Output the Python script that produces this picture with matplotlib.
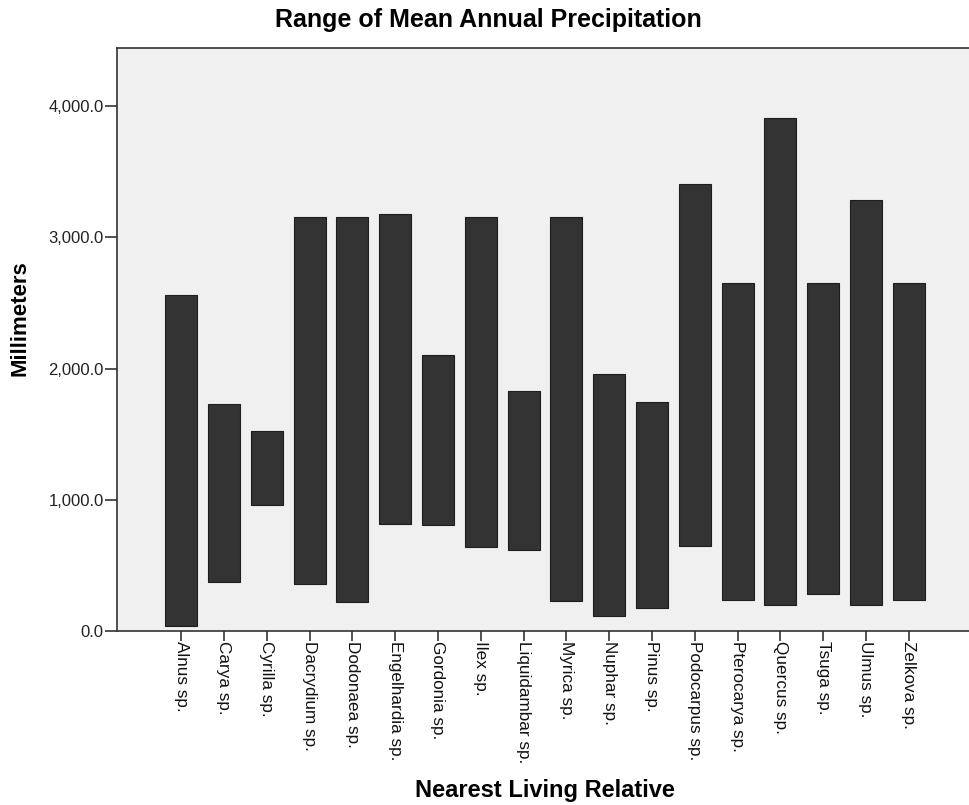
import matplotlib
matplotlib.use("Agg")
from matplotlib import pyplot as plt
from matplotlib.ticker import FuncFormatter
import matplotlib.transforms as mtransforms

taxa = ["Alnus sp.", "Carya sp.", "Cyrilla sp.", "Dacrydium sp.", "Dodonaea sp.",
        "Engelhardia sp.", "Gordonia sp.", "Ilex sp.", "Liquidambar sp.", "Myrica sp.",
        "Nuphar sp.", "Pinus sp.", "Podocarpus sp.", "Pterocarya sp.", "Quercus sp.",
        "Tsuga sp.", "Ulmus sp.", "Zelkova sp."]
precip_min = [40, 370, 958, 358, 221, 818, 805, 638, 617, 226,
              112, 175, 648, 239, 196, 282, 196, 239]
precip_max = [2557, 1727, 1523, 3153, 3153, 3176, 2100, 3154, 1829, 3154,
              1960, 1742, 3406, 2651, 3907, 2651, 3286, 2651]
y_ticks = [0, 1000, 2000, 3000, 4000]

plt.rcParams["font.family"] = ["Liberation Sans", "DejaVu Sans"]

fig = plt.figure(figsize=(9.69, 8.05), dpi=100)
ax = fig.add_axes([117 / 969, 1 - 631 / 805, (973 - 117) / 969, (631 - 48) / 805])
ax.set_facecolor("#f0f0f0")

x = list(range(len(taxa)))
heights = [hi - lo for lo, hi in zip(precip_min, precip_max)]
ax.bar(x, heights, bottom=precip_min, width=0.75, color="#333333",
       edgecolor="#1e1e1e", linewidth=0.8, zorder=3)

ax.set_xlim(-1.5, 18.5)
ax.set_ylim(0, 4442)
ax.set_yticks(y_ticks)
ax.yaxis.set_major_formatter(FuncFormatter(lambda v, p: f"{v:,.1f}"))
ax.set_xticks(x)
ax.set_xticklabels(taxa, rotation=270, va="top", ha="center", fontsize=12.3)
offset = mtransforms.ScaledTranslation(-2 / 100, 0, fig.dpi_scale_trans)
for lbl in ax.get_xticklabels():
    lbl.set_transform(lbl.get_transform() + offset)

ax.tick_params(axis="y", length=8.5, width=1.2, color="#333333", labelsize=12,
               labelcolor="#222222", pad=1)
ax.tick_params(axis="x", length=7.5, width=1.2, color="#333333", labelcolor="#111111", pad=0)

for side in ["left", "bottom", "top"]:
    ax.spines[side].set_color("#333333")
    ax.spines[side].set_linewidth(1.2)
ax.spines["right"].set_visible(False)

fig.text(488 / 969, 1 - 20 / 805, "Range of Mean Annual Precipitation", ha="center", va="center",
         fontsize=18, fontweight="bold")
fig.text(545 / 969, 1 - 790 / 805, "Nearest Living Relative", ha="center", va="center",
         fontsize=17, fontweight="bold")
fig.text(20 / 969, 1 - 318 / 805, "Millimeters", ha="center", va="center", rotation=90,
         fontsize=16, fontweight="bold")

fig.savefig("out.png", dpi=100)
